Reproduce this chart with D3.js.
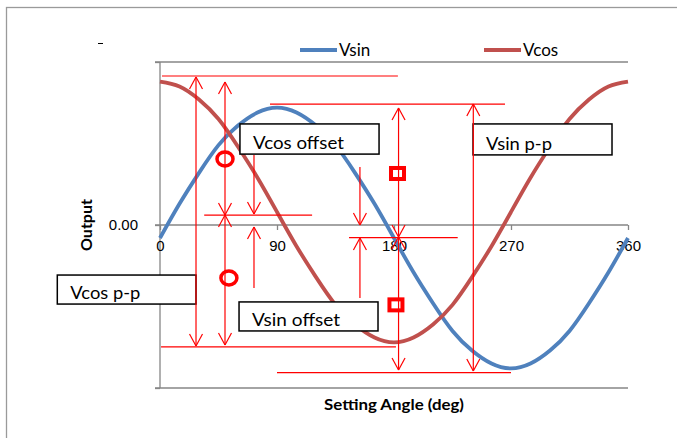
<!DOCTYPE html>
<meta charset="utf-8">
<style>
body { margin: 0; background: #fff; }
svg { font-family: Lato, "Open Sans", sans-serif; }
.grid line { stroke: #868686; stroke-width: 1.3px; }
.axis path, .axis line { stroke: #868686; stroke-width: 1.3px; }
.axis text { font-size: 15px; fill: #000; }
.series { fill: none; stroke-width: 3.8px; }
.note line { stroke: #ff0000; stroke-width: 1.2px; }
.box rect { fill: #fff; stroke: #000; stroke-width: 1.5px; }
.box text { font-size: 17px; fill: #000; }
</style>
<svg width="677" height="438"></svg>
<script src="https://d3js.org/d3.v7.min.js"></script>
<script>

// angle in degrees
var angles = [0, 15, 30, 45, 60, 75, 90, 105, 120, 135, 150, 165, 180,
              195, 210, 225, 240, 255, 270, 285, 300, 315, 330, 345, 360];
var vsin = [-0.08, 0.13, 0.32, 0.49, 0.61, 0.69, 0.72, 0.69, 0.61, 0.49, 0.32, 0.13, -0.08,
            -0.29, -0.48, -0.65, -0.77, -0.85, -0.88, -0.85, -0.77, -0.65, -0.48, -0.29, -0.08];
var vcos = [0.88, 0.85, 0.77, 0.65, 0.48, 0.29, 0.08, -0.13, -0.32, -0.49, -0.61, -0.69, -0.72,
            -0.69, -0.61, -0.49, -0.32, -0.13, 0.08, 0.29, 0.48, 0.65, 0.77, 0.85, 0.88];
var xTicks = [0, 90, 180, 270, 360];
var yTicks = [-1, 0, 1];
var seriesNames = ["Vsin", "Vcos"];
var colors = ["#4f81bd", "#c0504d"];

// annotations, in (angle, output) units
var hLines = [[1.5, 183, 0.914], [84.6, 265.4, 0.742], [0.8, 181.5, -0.748],
              [90, 270, -0.906], [34, 117, 0.061], [145.4, 229, -0.078]];
// [angle, from, to, head at start, head at end]
var vArrows = [[27.7, 0.908, -0.742, 1, 1],
               [50, 0.877, 0.061, 1, 1], [50, 0.061, -0.736, 1, 1],
               [72.3, 0.43, 0.067, 0, 1], [72.3, -0.387, -0.012, 0, 1],
               [153.8, 0.356, 0, 0, 1], [153.8, -0.448, -0.08, 0, 1],
               [183.5, 0.718, -0.074, 1, 1], [183.5, -0.074, -0.89, 1, 1],
               [241, 0.742, -0.896, 1, 1]];
var circles = [[50, 0.405], [53, -0.325]];
var squares = [[182.7, 0.316], [181.5, -0.49]];
// [label, angle0, angle1, top, bottom]
var boxes = [["Vcos offset", 61.5, 168.5, 0.62, 0.435],
             ["Vsin p-p", 240.8, 347.7, 0.62, 0.43],
             ["Vcos p-p", -79, 27.7, -0.307, -0.485],
             ["Vsin offset", 60.8, 167.7, -0.472, -0.65]];
var boxTextWidth = {"Vcos offset": 91, "Vsin p-p": 66, "Vcos p-p": 70, "Vsin offset": 88};

var svg = d3.select("svg");

var x = d3.scaleLinear().domain([0, 360]).range([160, 628]);
var y = d3.scaleLinear().domain([-1, 1]).range([388, 62]);

// outer chart frame
svg.append("rect")
    .attr("x", 6.5).attr("y", 7.5)
    .attr("width", 720).attr("height", 500)
    .attr("fill", "none").attr("stroke", "#9a9a9a").attr("stroke-width", 1.3);

svg.append("line")
    .attr("x1", 98).attr("x2", 103).attr("y1", 43.5).attr("y2", 43.5)
    .attr("stroke", "#000");

// gridlines
svg.append("g").attr("class", "grid")
  .selectAll("line")
  .data(yTicks.filter(function(d) { return d !== 0; }))
  .enter().append("line")
    .attr("x1", x(0) - 5).attr("x2", x(360))
    .attr("y1", function(d) { return y(d); })
    .attr("y2", function(d) { return y(d); });

// y axis
var yAxis = svg.append("g").attr("class", "axis")
    .attr("transform", "translate(" + x(0) + ",0)")
    .call(d3.axisLeft(y).tickValues(yTicks).tickSize(5).tickPadding(17)
        .tickFormat(function(d) { return d === 0 ? "0.00" : ""; }));
yAxis.select(".domain").attr("d", "M0," + y(1) + "V" + y(-1));

// x axis at zero
var xAxis = svg.append("g").attr("class", "axis")
    .attr("transform", "translate(0," + y(0) + ")")
    .call(d3.axisBottom(x).tickValues(xTicks).tickSize(5).tickPadding(10));
xAxis.select(".domain").attr("d", "M" + (x(0) - 5) + ",0H" + x(360));

svg.append("text")
    .attr("transform", "translate(92," + y(0) + ") rotate(-90)")
    .attr("text-anchor", "middle")
    .attr("textLength", 52).attr("lengthAdjust", "spacingAndGlyphs")
    .style("font-size", "16px").style("font-weight", "bold")
    .text("Output");

svg.append("text")
    .attr("x", 394).attr("y", 410)
    .attr("text-anchor", "middle")
    .attr("textLength", 140).attr("lengthAdjust", "spacingAndGlyphs")
    .style("font-size", "16px").style("font-weight", "bold")
    .text("Setting Angle (deg)");

// series
var line = d3.line()
    .x(function(d, i) { return x(angles[i]); })
    .y(function(d) { return y(d); })
    .curve(d3.curveNatural);

[vsin, vcos].forEach(function(s, i) {
  svg.append("path")
      .attr("class", "series")
      .attr("stroke", colors[i])
      .attr("d", line(s));
});

// legend
var legend = svg.append("g").selectAll("g")
    .data(seriesNames)
  .enter().append("g")
    .attr("transform", function(d, i) { return "translate(" + (300 + i * 184) + ",50)"; });
legend.append("line")
    .attr("x1", 0).attr("x2", 37)
    .attr("stroke", function(d, i) { return colors[i]; })
    .attr("stroke-width", 4);
legend.append("text")
    .attr("x", 39).attr("y", 6)
    .style("font-size", "17px")
    .text(function(d) { return d; });

// text boxes
var box = svg.append("g").selectAll("g")
    .data(boxes)
  .enter().append("g").attr("class", "box");
box.append("rect")
    .attr("x", function(d) { return x(d[1]); })
    .attr("y", function(d) { return y(d[3]); })
    .attr("width", function(d) { return x(d[2]) - x(d[1]); })
    .attr("height", function(d) { return y(d[4]) - y(d[3]); });
box.append("text")
    .attr("x", function(d) { return x(d[1]) + 13; })
    .attr("y", function(d) { return y(d[4]) - 5; })
    .attr("textLength", function(d) { return boxTextWidth[d[0]]; })
    .attr("lengthAdjust", "spacingAndGlyphs")
    .text(function(d) { return d[0]; });

// red annotation lines
var note = svg.append("g").attr("class", "note");
note.selectAll(".h")
    .data(hLines)
  .enter().append("line")
    .attr("x1", function(d) { return x(d[0]); })
    .attr("x2", function(d) { return x(d[1]); })
    .attr("y1", function(d) { return y(d[2]); })
    .attr("y2", function(d) { return y(d[2]); });

function head(g, px, py, dir) {
  // dir = -1 tip pointing up, 1 pointing down
  g.append("line").attr("x1", px).attr("y1", py).attr("x2", px - 6.5).attr("y2", py - dir * 12);
  g.append("line").attr("x1", px).attr("y1", py).attr("x2", px + 6.5).attr("y2", py - dir * 12);
}

vArrows.forEach(function(d) {
  var px = x(d[0]), y0 = y(d[1]), y1 = y(d[2]);
  var dir = y1 > y0 ? 1 : -1;
  note.append("line").attr("x1", px).attr("x2", px).attr("y1", y0).attr("y2", y1);
  if (d[3]) head(note, px, y0, -dir);
  if (d[4]) head(note, px, y1, dir);
});

svg.append("g").selectAll("ellipse")
    .data(circles)
  .enter().append("ellipse")
    .attr("cx", function(d) { return x(d[0]); })
    .attr("cy", function(d) { return y(d[1]); })
    .attr("rx", 8).attr("ry", 7)
    .attr("fill", "none").attr("stroke", "#ff0000").attr("stroke-width", 3.5);

svg.append("g").selectAll("rect")
    .data(squares)
  .enter().append("rect")
    .attr("x", function(d) { return x(d[0]) - 6.5; })
    .attr("y", function(d) { return y(d[1]) - 5.5; })
    .attr("width", 13).attr("height", 11)
    .attr("fill", "none").attr("stroke", "#ff0000").attr("stroke-width", 4);

</script>
